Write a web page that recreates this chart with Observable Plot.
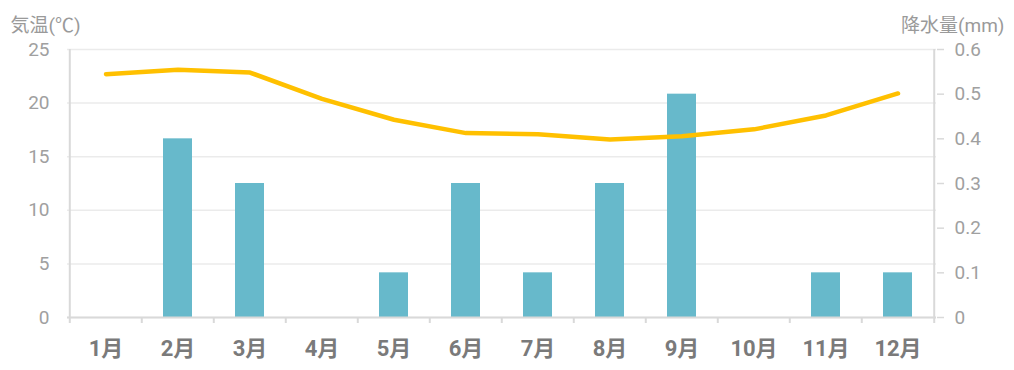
<!DOCTYPE html>
<html>
<head>
<meta charset="utf-8">
<script src="https://cdn.jsdelivr.net/npm/d3@7"></script>
<script src="https://cdn.jsdelivr.net/npm/@observablehq/plot@0.6"></script>
<style>
  html, body { margin: 0; padding: 0; background: #fff; }
  #chart svg { display: block; font-family: Roboto, "Noto Sans CJK JP", sans-serif; }
</style>
</head>
<body>
<div id="chart"></div>
<script>
const months = ["1月","2月","3月","4月","5月","6月","7月","8月","9月","10月","11月","12月"];
const temperature = [22.7, 23.1, 22.85, 20.4, 18.45, 17.2, 17.1, 16.6, 16.9, 17.55, 18.85, 20.9];
const precipitation = [0, 0.4, 0.3, 0, 0.1, 0.3, 0.1, 0.3, 0.5, 0, 0.1, 0.1];
const tempTicks = [0, 5, 10, 15, 20, 25];
const precipTicks = [0, 0.1, 0.2, 0.3, 0.4, 0.5, 0.6];
const tempMax = 25, precipMax = 0.6;
const leftTitle = "気温(℃)";
const rightTitle = "降水量(mm)";

const W = 1014, H = 370, ML = 67, MR = 78, MT = 49, MB = 53;
const step = (W - ML - MR) / months.length;
const k = tempMax / precipMax;

const data = months.map((m, i) => ({month: m, temp: temperature[i], precip: precipitation[i]}));
const axisColor = "#d9d9d9";

const plot = Plot.plot({
  width: W, height: H,
  marginLeft: ML, marginRight: MR, marginTop: MT, marginBottom: MB,
  x: {domain: months, paddingInner: 0.6, paddingOuter: 0.3, label: null},
  y: {domain: [0, tempMax], label: null},
  marks: [
    Plot.gridY(tempTicks, {stroke: "#ebebeb", strokeOpacity: 1, strokeWidth: 1.5}),
    Plot.barY(data, {x: "month", y: d => d.precip * k, fill: "#67b9cb"}),
    Plot.line(data, {x: "month", y: "temp", stroke: "#ffc000", strokeWidth: 4.5, strokeLinejoin: "round", strokeLinecap: "round"}),
    Plot.ruleX([months[0]], {dx: -step / 2, stroke: axisColor, strokeWidth: 2}),
    Plot.ruleX([months[months.length - 1]], {dx: step / 2, stroke: axisColor, strokeWidth: 2}),
    Plot.ruleY([0], {stroke: axisColor, strokeWidth: 2}),
    Plot.axisX({tickSize: 6, tickFormat: () => "", dx: -step / 2, stroke: axisColor, strokeWidth: 2, label: null}),
    Plot.axisX([months[months.length - 1]], {tickSize: 6, tickFormat: () => "", dx: step / 2, stroke: axisColor, strokeWidth: 2, label: null}),
    Plot.axisX({tickSize: 0, tickPadding: 23, fontSize: 22, fontWeight: "bold", fill: "#7a7a7a", label: null}),
    Plot.axisY(tempTicks, {anchor: "left", tickSize: 0, tickPadding: 18, fontSize: 19, fill: "#a0a0a0", label: null}),
    Plot.axisY(precipTicks.map(v => v * k), {anchor: "right", tickSize: 7, tickPadding: 11, stroke: axisColor, strokeWidth: 1.5, fontSize: 19, fill: "#a0a0a0", label: null,
      tickFormat: v => { const p = Math.round(v / k * 10) / 10; return p === 0 ? "0" : p.toFixed(1); }}),
    Plot.text([leftTitle], {frameAnchor: "top-left", textAnchor: "start", dx: -57, dy: -31, fontSize: 19, fill: "#9a9a9a"}),
    Plot.text([rightTitle], {frameAnchor: "top-right", textAnchor: "end", dx: 68, dy: -31, fontSize: 19, fill: "#9a9a9a"})
  ]
});
document.getElementById("chart").appendChild(plot);
</script>
</body>
</html>
